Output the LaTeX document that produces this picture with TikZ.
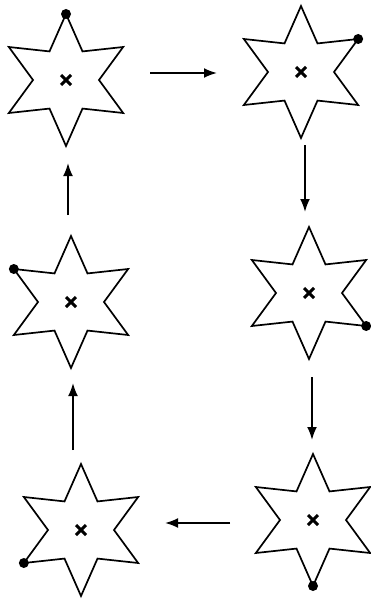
\documentclass[tikz,border=0pt]{standalone}
\usetikzlibrary{shapes.geometric,arrows.meta}
\tikzset{
  hexstar/.style={star, star points=6, star point ratio=2, minimum size=132pt,
    inner sep=0pt, outer sep=0pt, draw=black, line width=1.7pt, line join=miter, fill=white,
    path picture={
      \draw[line width=3pt]
        ([shift={(-5pt,-5pt)}]path picture bounding box.center) -- ([shift={(5pt,5pt)}]path picture bounding box.center)
        ([shift={(-5pt,5pt)}]path picture bounding box.center) -- ([shift={(5pt,-5pt)}]path picture bounding box.center);
    }},
  tipdot/.style={fill=black},
  arr/.style={-{Latex[length=13pt,width=10pt]}, line width=1.9pt, black}
}
\begin{document}
\begin{tikzpicture}[x=1pt,y=-1pt]
  \useasboundingbox[fill=white] (0,0) rectangle (371,599);
  % stars
  \node[hexstar] (s1) at (66,80) {};
  \node[hexstar] (s2) at (301,72) {};
  \node[hexstar] (s3) at (71,302) {};
  \node[hexstar] (s4) at (309,293) {};
  \node[hexstar] (s5) at (81,530) {};
  \node[hexstar] (s6) at (313,520) {};
  % dots on tips
  \fill[tipdot] (s1.outer point 1) circle (5);
  \fill[tipdot] (s2.outer point 6) circle (5);
  \fill[tipdot] (s4.outer point 5) circle (5);
  \fill[tipdot] (s6.outer point 4) circle (5);
  \fill[tipdot] (s5.outer point 3) circle (5);
  \fill[tipdot] (s3.outer point 2) circle (5);
  % arrows
  \draw[arr] ([shift={(84,-7)}]s1.center) -- ([shift={(-84,1)}]s2.center);
  \draw[arr] ([shift={(4,73)}]s2.center) -- ([shift={(-4,-81)}]s4.center);
  \draw[arr] ([shift={(3,84)}]s4.center) -- ([shift={(-1,-80)}]s6.center);
  \draw[arr] ([shift={(-83,3)}]s6.center) -- ([shift={(84,-7)}]s5.center);
  \draw[arr] ([shift={(-8,-80)}]s5.center) -- ([shift={(2,81)}]s3.center);
  \draw[arr] ([shift={(-3,-87)}]s3.center) -- ([shift={(2,83)}]s1.center);
\end{tikzpicture}
\end{document}
